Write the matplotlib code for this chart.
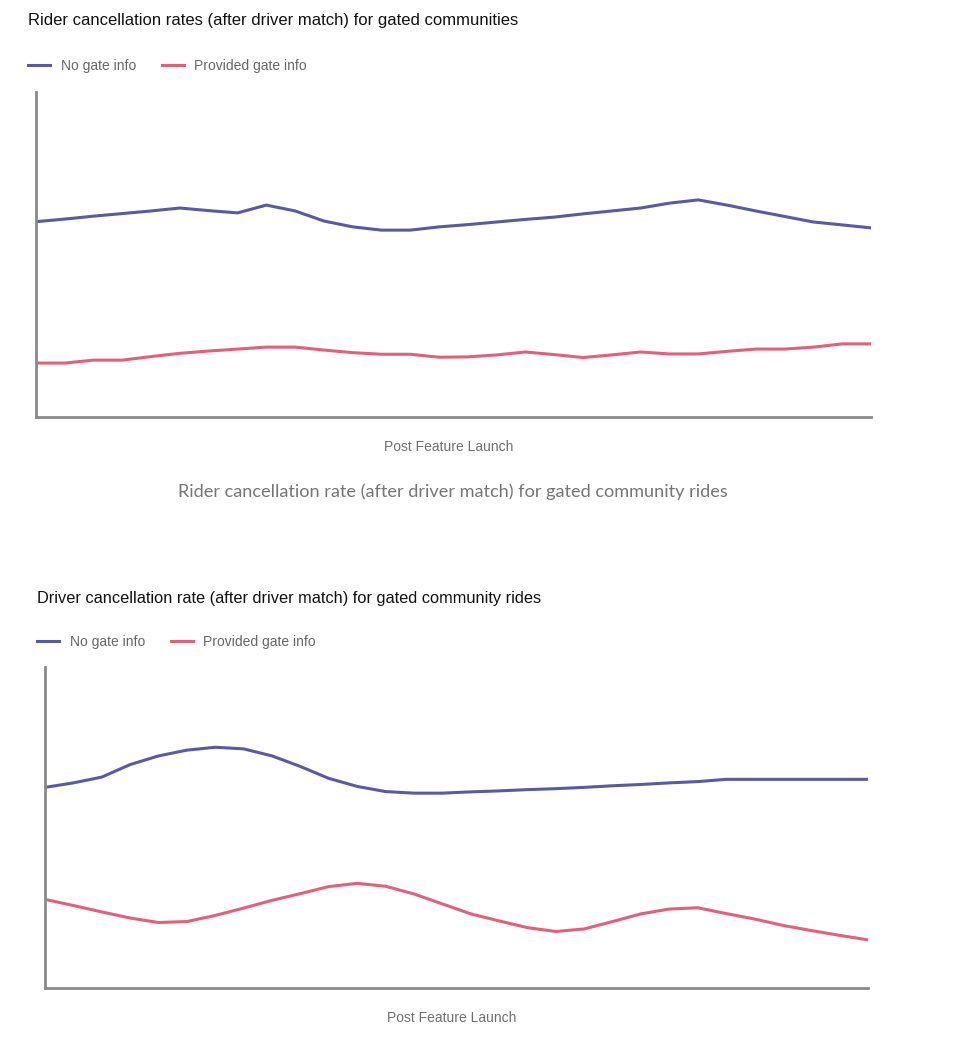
import numpy as np
import matplotlib.pyplot as plt

# days after launch (same index for both charts)
days = np.arange(30)

# chart 1: rider cancellation rate (relative units)
rider_no_gate = [6.01, 6.09, 6.18, 6.26, 6.34, 6.43, 6.35, 6.28, 6.52, 6.34,
                 6.03, 5.85, 5.75, 5.75, 5.85, 5.92, 6.00, 6.08, 6.15, 6.25,
                 6.34, 6.43, 6.58, 6.68, 6.52, 6.34, 6.17, 6.00, 5.91, 5.82]
rider_gate = [1.66, 1.66, 1.75, 1.75, 1.86, 1.96, 2.03, 2.09, 2.15, 2.15,
              2.06, 1.98, 1.93, 1.93, 1.84, 1.85, 1.91, 2.00, 1.92, 1.83,
              1.91, 2.00, 1.94, 1.94, 2.02, 2.09, 2.09, 2.15, 2.25, 2.25]

# chart 2: driver cancellation rate
driver_no_gate = [6.25, 6.39, 6.57, 6.96, 7.23, 7.41, 7.50, 7.45, 7.23, 6.90,
                  6.53, 6.28, 6.12, 6.07, 6.07, 6.11, 6.14, 6.18, 6.21, 6.25,
                  6.30, 6.34, 6.39, 6.43, 6.50, 6.50, 6.50, 6.50, 6.50, 6.50]
driver_gate = [2.76, 2.57, 2.37, 2.18, 2.04, 2.07, 2.26, 2.49, 2.73, 2.94,
               3.16, 3.26, 3.17, 2.93, 2.62, 2.31, 2.09, 1.88, 1.76, 1.84,
               2.07, 2.31, 2.46, 2.50, 2.32, 2.15, 1.95, 1.79, 1.64, 1.50]

labels = ['No gate info', 'Provided gate info']
colors = ['#5a5aa3', '#e2607c']

W, H = 960, 1037
fig = plt.figure(figsize=(W / 100, H / 100), dpi=100)
fig.patch.set_facecolor('white')

def px(x, y):
    return x / W, 1 - y / H

def make_chart(left, top, right, bottom, a, b, title, tsize, tx, ty, legx, legy, xlx, xly):
    ax = fig.add_axes([left / W, 1 - bottom / H, (right - left) / W, (bottom - top) / H])
    ax.plot(days, a, color=colors[0], lw=2.2, label=labels[0], solid_joinstyle='round')
    ax.plot(days, b, color=colors[1], lw=2.2, label=labels[1], solid_joinstyle='round')
    ax.set_xlim(0, 29)
    ax.set_ylim(0, 10)
    for s in ['top', 'right']:
        ax.spines[s].set_visible(False)
    for s in ['left', 'bottom']:
        ax.spines[s].set_color('#8a8a8a')
        ax.spines[s].set_linewidth(2)
    ax.set_xticks([])
    ax.set_yticks([])
    ax.legend(loc='center left', bbox_to_anchor=px(legx, legy), bbox_transform=fig.transFigure,
              ncol=2, frameon=False, handlelength=1.6, handletextpad=0.75,
              columnspacing=1.85, borderpad=0, borderaxespad=0, labelcolor='#666666',
              prop={'family': 'Liberation Sans', 'size': 10})
    fig.text(*px(tx, ty), title, fontsize=tsize, color='#111111', family='Liberation Sans',
             ha='left', va='center')
    fig.text(*px(xlx, xly), 'Post Feature Launch', fontsize=10, color='#6e6e6e',
             family='Liberation Sans', ha='center', va='center')
    return ax

make_chart(36, 92, 871, 417, rider_no_gate, rider_gate,
           'Rider cancellation rates (after driver match) for gated communities', 12,
           28, 21, 28, 66, 449, 447)

fig.text(*px(453, 492), 'Rider cancellation rate (after driver match) for gated community rides',
         fontsize=13.1, color='#757575', family='Lato', ha='center', va='center')

make_chart(45, 667, 868, 988, driver_no_gate, driver_gate,
           'Driver cancellation rate (after driver match) for gated community rides', 11.8,
           37, 598, 37, 642, 452, 1018)

fig.savefig('out.png', dpi=100)
